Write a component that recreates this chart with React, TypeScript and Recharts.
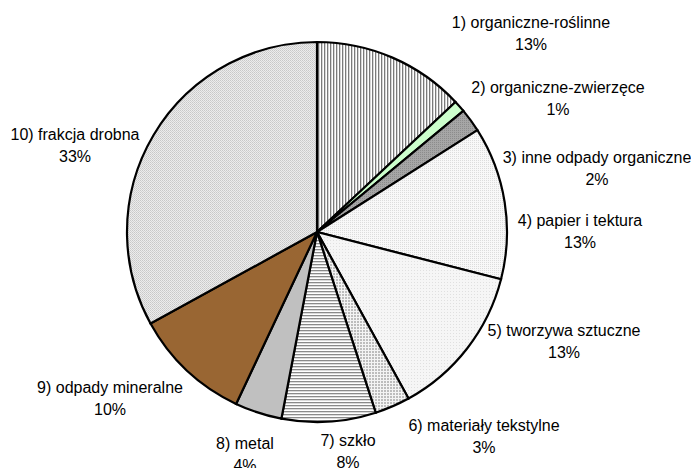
import React from 'react'
import { PieChart, Pie, Cell } from 'recharts'

const categories = [
  '1) organiczne-roślinne',
  '2) organiczne-zwierzęce',
  '3) inne odpady organiczne',
  '4) papier i tektura',
  '5) tworzywa sztuczne',
  '6) materiały tekstylne',
  '7) szkło',
  '8) metal',
  '9) odpady mineralne',
  '10) frakcja drobna',
]

const shares = [13, 1, 2, 13, 13, 3, 8, 4, 10, 33]

const fills = [
  'url(#pVert)',
  '#ccffcc',
  'url(#pGrayDots)',
  'url(#pPaper)',
  'url(#pPlastic)',
  'url(#pCheck)',
  'url(#pHoriz)',
  '#c0c0c0',
  '#996633',
  'url(#pFine)',
]

// label anchor (centre of the first line) relative to the pie centre
const labelOffsets = [
  [214, -210],
  [241, -145],
  [280, -75],
  [263, -12],
  [247, 98],
  [167, 193],
  [31, 208],
  [-72, 211],
  [-207, 155],
  [-242, -98],
]

const data = categories.map((name, i) => ({ name, value: shares[i] }))

const CX = 317
const CY = 232

function renderLabel(props: any) {
  const { index, cx, cy, value } = props
  const [dx, dy] = labelOffsets[index]
  const x = cx + dx
  const y = cy + dy
  return (
    <text
      x={x}
      y={y}
      textAnchor="middle"
      dominantBaseline="central"
      fill="#000"
      fontFamily="'Liberation Sans', Arial, sans-serif"
      fontSize={16}
    >
      <tspan x={x} y={y}>{categories[index]}</tspan>
      <tspan x={x} y={y + 22}>{`${value}%`}</tspan>
    </text>
  )
}

function Patterns() {
  return (
    <svg width={0} height={0} style={{ position: 'absolute' }}>
      <defs>
        <pattern id="pVert" width={3} height={3} patternUnits="userSpaceOnUse">
          <rect width={3} height={3} fill="#ffffff" />
          <rect width={1.3} height={3} fill="#7a7a7a" />
        </pattern>
        <pattern id="pGrayDots" width={2} height={2} patternUnits="userSpaceOnUse">
          <rect width={2} height={2} fill="#a6a6a6" />
          <rect width={1} height={1} fill="#8c8c8c" />
        </pattern>
        <pattern id="pPaper" width={2} height={2} patternUnits="userSpaceOnUse">
          <rect width={2} height={2} fill="#f8f8f8" />
          <rect width={1} height={1} fill="#dcdcdc" />
        </pattern>
        <pattern id="pPlastic" width={3} height={3} patternUnits="userSpaceOnUse">
          <rect width={3} height={3} fill="#f6f6f6" />
          <rect width={1} height={1} fill="#e0e0e0" />
        </pattern>
        <pattern id="pCheck" width={3} height={3} patternUnits="userSpaceOnUse">
          <rect width={3} height={3} fill="#f4f4f4" />
          <rect width={2} height={2} fill="#bdbdbd" />
        </pattern>
        <pattern id="pHoriz" width={3} height={3} patternUnits="userSpaceOnUse">
          <rect width={3} height={3} fill="#ffffff" />
          <rect width={3} height={1.3} fill="#8a8a8a" />
        </pattern>
        <pattern id="pFine" width={2} height={2} patternUnits="userSpaceOnUse">
          <rect width={2} height={2} fill="#ececec" />
          <rect width={1} height={1} fill="#c8c8c8" />
          <rect x={1} y={1} width={1} height={1} fill="#d2d2d2" />
        </pattern>
      </defs>
    </svg>
  )
}

export default function App() {
  return (
    <div style={{ position: 'absolute', left: 0, top: 0, width: 691, height: 468, background: '#fff' }}>
      <Patterns />
      <PieChart width={691} height={468} margin={{ top: 0, right: 0, bottom: 0, left: 0 }}>
        <Pie
          data={data}
          dataKey="value"
          nameKey="name"
          cx={CX}
          cy={CY}
          outerRadius={190}
          startAngle={90}
          endAngle={-270}
          stroke="#000"
          strokeWidth={2.2}
          label={renderLabel}
          labelLine={false}
          isAnimationActive={false}
        >
          {data.map((d, i) => (
            <Cell key={d.name} fill={fills[i]} />
          ))}
        </Pie>
      </PieChart>
    </div>
  )
}
